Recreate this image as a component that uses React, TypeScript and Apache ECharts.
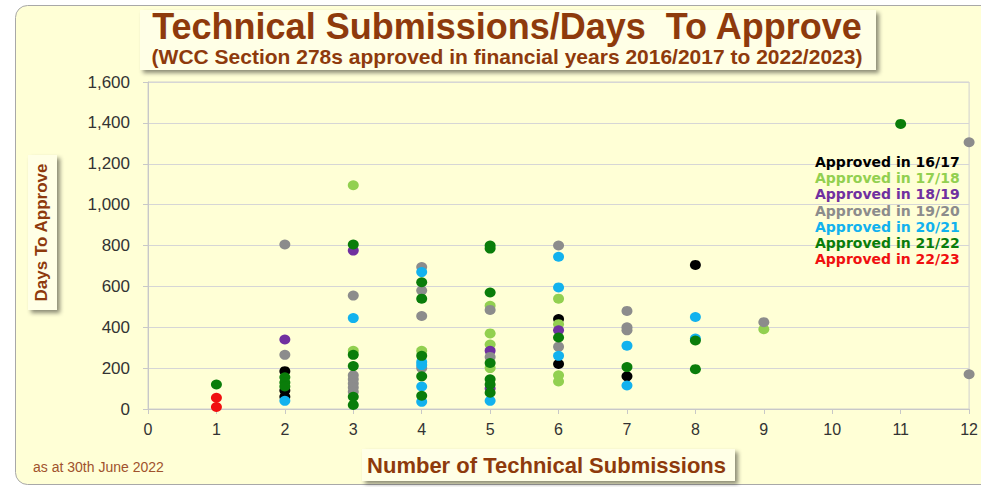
import React, { useEffect, useRef } from "react";
import * as echarts from "echarts";

const seriesNames = [
  "Approved in 16/17",
  "Approved in 17/18",
  "Approved in 18/19",
  "Approved in 19/20",
  "Approved in 20/21",
  "Approved in 21/22",
  "Approved in 22/23",
];
const seriesColors = ["#000000", "#92D050", "#7030A0", "#8C8C8C", "#12B2EE", "#0A7D0A", "#F01010"];

const approved1617 = [[2, 185], [2, 90], [2, 60], [6, 440], [6, 220], [7, 160], [8, 705]];
const approved1718 = [[3, 1095], [3, 285], [4, 285], [5, 505], [5, 370], [5, 315], [5, 200], [6, 540], [6, 415], [6, 165], [6, 135], [9, 390]];
const approved1819 = [[2, 340], [3, 775], [5, 285], [5, 100], [6, 385]];
const approved1920 = [[2, 805], [2, 265], [3, 555], [3, 165], [3, 145], [3, 125], [3, 105], [3, 85], [4, 695], [4, 580], [4, 455], [4, 200], [5, 485], [5, 255], [6, 800], [6, 305], [7, 480], [7, 400], [7, 385], [9, 425], [12, 1305], [12, 170]];
const approved2021 = [[2, 40], [3, 445], [4, 670], [4, 230], [4, 215], [4, 110], [4, 35], [5, 40], [6, 745], [6, 595], [6, 260], [7, 310], [7, 115], [8, 450], [8, 345]];
const approved2122 = [[1, 120], [2, 155], [2, 130], [2, 110], [3, 805], [3, 265], [3, 210], [3, 60], [3, 20], [4, 620], [4, 540], [4, 260], [4, 160], [4, 65], [5, 800], [5, 785], [5, 570], [5, 225], [5, 145], [5, 120], [5, 80], [6, 350], [7, 205], [8, 335], [8, 195], [11, 1395]];
const approved2223 = [[1, 55], [1, 10]];

const seriesData = [approved1617, approved1718, approved1819, approved1920, approved2021, approved2122, approved2223];

const BG = "#FFFFD6";
const BOX = "#FFFFE6";
const BROWN = "#8E3A0C";

export default function App() {
  const ref = useRef<HTMLDivElement>(null);
  useEffect(() => {
    if (!ref.current) return;
    const chart = echarts.init(ref.current, undefined, { renderer: "svg" });
    const shadow = {
      shadowColor: "rgba(0,0,0,0.45)",
      shadowBlur: 4,
      shadowOffsetX: 3,
      shadowOffsetY: 3,
    };
    chart.setOption({
      animation: false,
      backgroundColor: "#FFFFFF",
      textStyle: { fontFamily: "Liberation Sans" },
      graphic: [
        {
          type: "rect",
          z: -10,
          shape: { x: 15.5, y: 5.5, width: 1000, height: 479, r: 12 },
          style: { fill: BG, stroke: "#A8A8A8", lineWidth: 1 },
        },
        {
          type: "rect",
          z: -5,
          shape: { x: 140, y: 10, width: 736, height: 60 },
          style: { fill: BOX, ...shadow },
        },
        {
          type: "rect",
          z: -5,
          shape: { x: 28, y: 155, width: 29, height: 155 },
          style: { fill: BOX, ...shadow },
        },
        {
          type: "rect",
          z: -5,
          shape: { x: 362, y: 449, width: 373, height: 32 },
          style: { fill: BOX, ...shadow },
        },
        {
          type: "text",
          x: 33,
          y: 467,
          style: {
            text: "as at 30th June 2022",
            fill: "#A0522D",
            font: "14px 'Liberation Sans'",
            textVerticalAlign: "middle",
          },
        },
      ],
      title: {
        text: "Technical Submissions/Days  To Approve",
        subtext: "(WCC Section 278s approved in financial years 2016/2017 to 2022/2023)",
        left: 502,
        top: 3,
        textAlign: "center",
        itemGap: 2,
        textStyle: { fontSize: 36, lineHeight: 36, fontWeight: "bold", color: BROWN, fontFamily: "Liberation Sans" },
        subtextStyle: { fontSize: 21, lineHeight: 21, fontWeight: "bold", color: BROWN, fontFamily: "Liberation Sans" },
      },
      legend: {
        orient: "vertical",
        left: 805,
        top: 149,
        icon: "none",
        itemWidth: 0,
        itemHeight: 16,
        itemGap: 0.2,
        selectedMode: false,
        data: seriesNames.map((n, i) => ({
          name: n,
          textStyle: { color: seriesColors[i] },
        })),
        textStyle: { fontSize: 14, lineHeight: 16, fontWeight: "bold", fontFamily: "DejaVu Sans" },
      },
      grid: {
        left: 148,
        right: 9,
        top: 82,
        bottom: 78,
        show: true,
        borderColor: "#D0D0D0",
        borderWidth: 1,
        backgroundColor: "transparent",
      },
      xAxis: {
        type: "value",
        min: 0,
        max: 12,
        interval: 1,
        name: "Number of Technical Submissions",
        nameLocation: "middle",
        nameGap: 45,
        nameTextStyle: {
          fontSize: 22,
          fontWeight: "bold",
          color: BROWN,
          padding: [0, 24, 0, 0],
        },
        axisLine: { show: true, lineStyle: { color: "#C8C8C8" } },
        axisTick: { show: true, length: 5, lineStyle: { color: "#C8C8C8" } },
        splitLine: { show: false },
        axisLabel: { fontSize: 16, color: "#333333", margin: 12 },
      },
      yAxis: {
        type: "value",
        min: 0,
        max: 1600,
        interval: 200,
        name: "Days To Approve",
        nameLocation: "middle",
        nameGap: 98,
        nameTextStyle: {
          fontSize: 17,
          fontWeight: "bold",
          color: BROWN,
          padding: [0, 0, 0, 26],
        },
        axisLine: { show: true, lineStyle: { color: "#C8C8C8" } },
        axisTick: { show: true, length: 5, lineStyle: { color: "#C8C8C8" } },
        splitLine: { show: true, lineStyle: { color: "#D6D6D6" } },
        axisLabel: {
          fontSize: 17,
          color: "#333333",
          margin: 18,
          formatter: (v: number) => v.toLocaleString("en-US"),
        },
      },
      series: seriesNames.map((n, i) => ({
        name: n,
        type: "scatter",
        data: seriesData[i],
        symbol: "circle",
        symbolSize: [11, 10],
        itemStyle: { color: seriesColors[i], opacity: 1 },
      })),
    });
    return () => chart.dispose();
  }, []);
  return (
    <div
      ref={ref}
      style={{ position: "absolute", left: 0, top: 0, width: 981, height: 487 }}
    />
  );
}
